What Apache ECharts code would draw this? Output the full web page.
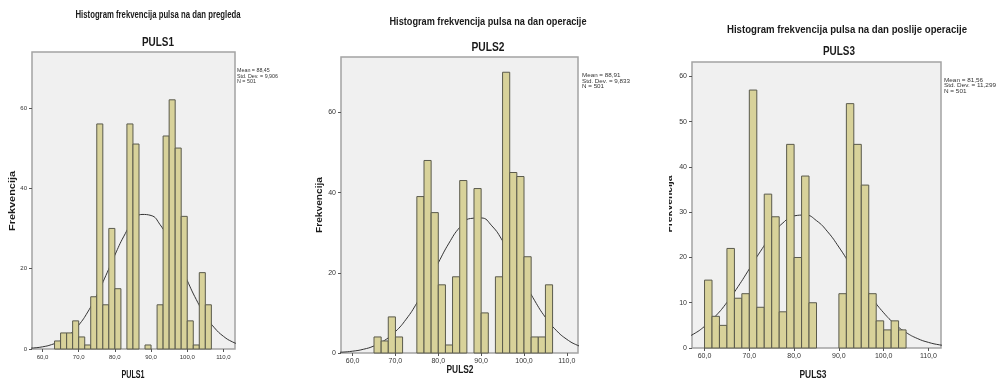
<!DOCTYPE html>
<html>
<head>
<meta charset="utf-8">
<script src="https://cdn.jsdelivr.net/npm/echarts@6/dist/echarts.min.js"></script>
<style>
  html, body { margin: 0; padding: 0; background: #fff; }
  #main { width: 1000px; height: 385px; }
</style>
</head>
<body>
<div id="main"></div>
<script>
// histogram bins (width 5/3), shared by the three variables
const binEdges = [60, 61.67, 63.33, 65, 66.67, 68.33, 70, 71.67, 73.33, 75, 76.67, 78.33, 80, 81.67, 83.33,
  85, 86.67, 88.33, 90, 91.67, 93.33, 95, 96.67, 98.33, 100, 101.67, 103.33, 105, 106.67]

const puls1Counts = [0, 0, 2, 4, 4, 7, 3, 1, 13, 56, 11, 30, 15, 0, 56, 51, 0, 1, 0, 11, 53, 62, 50, 33, 7, 1, 19, 11]
const puls2Counts = [0, 0, 0, 4, 3, 9, 4, 0, 0, 39, 48, 35, 17, 2, 19, 43, 0, 41, 10, 0, 19, 70, 45, 44, 24, 4, 4, 17]
const puls3Counts = [15, 7, 5, 22, 11, 12, 57, 9, 34, 29, 8, 45, 20, 38, 10, 0, 0, 0, 12, 54, 45, 36, 12, 6, 4, 6, 4, 0]

// fitted normal curves, read at every 2.5
const curveX = [55, 57.5, 60, 62.5, 65, 67.5, 70, 72.5, 75, 77.5, 80, 82.5, 85, 87.5, 90, 92.5, 95, 97.5, 100,
  102.5, 105, 107.5, 110, 112.5, 115]
const puls1Curve = [0.11, 0.26, 0.54, 1.09, 2.04, 3.6, 5.94, 9.2, 13.37, 18.26, 23.37, 28.08, 31.65, 33.48, 33.22,
  30.93, 27.03, 22.15, 17.04, 12.3, 8.33, 5.29, 3.16, 1.77, 0.93]
const puls2Curve = [0.09, 0.21, 0.45, 0.92, 1.76, 3.17, 5.33, 8.42, 12.46, 17.28, 22.47, 27.4, 31.31, 33.53, 33.67,
  31.7, 27.97, 23.13, 17.94, 13.04, 8.88, 5.67, 3.4, 1.91, 1.0]
const puls3Curve = [1.86, 3.05, 4.78, 7.1, 10.07, 13.59, 17.47, 21.38, 24.91, 27.64, 29.2, 29.38, 28.14, 25.67, 22.3,
  18.45, 14.53, 10.9, 7.78, 5.29, 3.43, 2.11, 1.24, 0.69, 0.37]

const xTicks = [60, 70, 80, 90, 100, 110]
const yTicks12 = [0, 20, 40, 60]
const yTicks3 = [0, 10, 20, 30, 40, 50, 60]

const titles = ['Histogram frekvencija pulsa na dan pregleda', 'Histogram frekvencija pulsa na dan operacije',
  'Histogram frekvencija pulsa na dan poslije operacije']
const varNames = ['PULS1', 'PULS2', 'PULS3']
const stats1 = ['Mean = 88,45', 'Std. Dev. = 9,906', 'N = 501']
const stats2 = ['Mean = 88,91', 'Std. Dev. = 9,833', 'N = 501']
const stats3 = ['Mean = 81,56', 'Std. Dev. = 11,299', 'N = 501']

// layout of the three panels
const panels = [
  {counts: puls1Counts, curve: puls1Curve, yTicks: yTicks12, stats: stats1, grid: {left: 32, top: 52, width: 203, height: 297},
    xMin: 57.1, xMax: 113.2, yMax: 73.9, title: [158, 15, 165], sub: [158, 43, 32], xName: [133, 375, 23],
    yName: [13, 201, 60], statPos: [237, 70.5, 5.5, 41]},
  {counts: puls2Counts, curve: puls2Curve, yTicks: yTicks12, stats: stats2, grid: {left: 341, top: 57, width: 237, height: 296},
    xMin: 57.3, xMax: 112.6, yMax: 73.8, title: [488, 22, 197], sub: [488, 48, 33], xName: [460, 370, 27],
    yName: [320, 205, 56], statPos: [582, 75.5, 5.5, 48]},
  {counts: puls3Counts, curve: puls3Curve, yTicks: yTicks3, stats: stats3, grid: {left: 692, top: 62, width: 249, height: 286},
    xMin: 57.2, xMax: 112.8, yMax: 63.2, title: [847, 30, 240], sub: [839, 52, 32], xName: [813, 375, 27],
    yName: [670, 204, 57], statPos: [944, 80, 5.7, 52]}
]

const FONT = '"Liberation Sans", Arial, sans-serif'
const measure = document.createElement('canvas').getContext('2d')

function textScale (text, font, width) {
  measure.font = font
  return width / measure.measureText(text).width
}

function fitText (text, font, x, y, width, extra) {
  return Object.assign({
    type: 'text', x, y, scaleX: textScale(text, font, width), z: 10,
    style: {text, font, fill: '#1a1a1a', align: 'center', verticalAlign: 'middle'}
  }, extra)
}

function renderBar (params, api) {
  let top = api.coord([api.value(0), api.value(2)])
  let bottom = api.coord([api.value(1), 0])
  return {
    type: 'rect',
    shape: {x: top[0], y: top[1], width: bottom[0] - top[0], height: bottom[1] - top[1]},
    style: {fill: '#d8d29a', stroke: '#5a5a4c', lineWidth: 1}
  }
}

const grid = []
const xAxis = []
const yAxis = []
const series = []
const graphic = []

panels.forEach((p, i) => {
  grid.push(Object.assign({show: true, backgroundColor: '#f0f0f0', borderColor: '#a3a3a3', borderWidth: 1.5}, p.grid))
  xAxis.push({
    type: 'value', gridIndex: i, min: p.xMin, max: p.xMax,
    axisLine: {show: false}, splitLine: {show: false},
    axisTick: {show: true, customValues: xTicks, length: 3, lineStyle: {color: '#555'}},
    axisLabel: {customValues: xTicks, margin: 5, fontSize: i === 0 ? 6 : 7, color: '#333',
      fontFamily: '"Liberation Sans Narrow", ' + FONT, formatter: v => v.toFixed(1).replace('.', ',')}
  })
  yAxis.push({
    type: 'value', gridIndex: i, min: 0, max: p.yMax,
    axisLine: {show: false}, splitLine: {show: false},
    axisTick: {show: true, customValues: p.yTicks, length: 3, lineStyle: {color: '#555'}},
    axisLabel: {customValues: p.yTicks, margin: 5, fontSize: i === 0 ? 6 : 7, color: '#333',
      fontFamily: '"Liberation Sans Narrow", ' + FONT}
  })
  let bars = []
  p.counts.forEach((c, k) => {
    if (c > 0) bars.push([binEdges[k], binEdges[k + 1], c])
  })
  series.push({
    type: 'line', xAxisIndex: i, yAxisIndex: i, z: 1, silent: true, smooth: true, showSymbol: false,
    lineStyle: {color: '#333', width: 1}, data: curveX.map((x, k) => [x, p.curve[k]])
  })
  series.push({
    type: 'custom', xAxisIndex: i, yAxisIndex: i, z: 2, silent: true,
    renderItem: renderBar, encode: {x: [0, 1], y: 2}, data: bars
  })

  graphic.push(fitText(titles[i], 'bold 11px ' + FONT, p.title[0], p.title[1], p.title[2]))
  graphic.push(fitText(varNames[i], 'bold 12px ' + FONT, p.sub[0], p.sub[1], p.sub[2]))
  graphic.push(fitText(varNames[i], 'bold 10px ' + FONT, p.xName[0], p.xName[1], p.xName[2]))
  graphic.push(fitText('Frekvencija', 'bold 9px ' + FONT, p.yName[0], p.yName[1], p.yName[2], {rotation: Math.PI / 2}))

  let statFont = '6px ' + FONT
  let sx = textScale(p.stats[1], statFont, p.statPos[3])
  p.stats.forEach((s, k) => {
    graphic.push({
      type: 'text', x: p.statPos[0], y: p.statPos[1] + k * p.statPos[2], scaleX: sx, z: 10,
      style: {text: s, font: statFont, fill: '#333', align: 'left', verticalAlign: 'middle'}
    })
  })
})

// the third y-axis name is cut off on its left side in the source image
graphic.push({type: 'rect', shape: {x: 655, y: 150, width: 14, height: 110}, z: 20, style: {fill: '#fff'}})

let chart = echarts.init(document.getElementById('main'), null, {renderer: 'canvas'})
chart.setOption({animation: false, grid, xAxis, yAxis, series, graphic})
</script>
</body>
</html>
